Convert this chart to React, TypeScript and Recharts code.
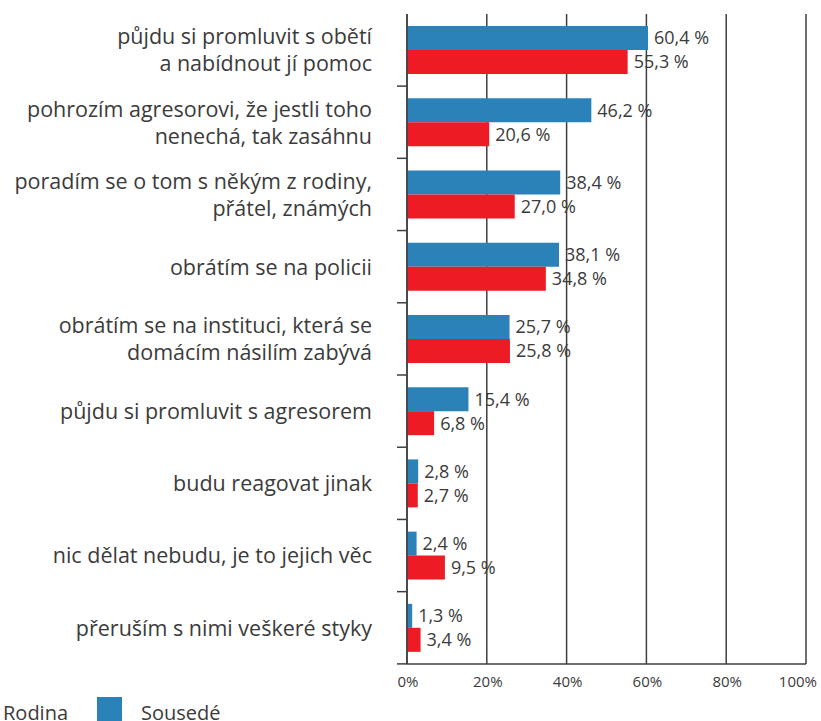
import { Bar, BarChart, CartesianGrid, LabelList, XAxis, YAxis } from "recharts";

const categories = [
  "půjdu si promluvit s obětí\na nabídnout jí pomoc",
  "pohrozím agresorovi, že jestli toho\nnenechá, tak zasáhnu",
  "poradím se o tom s někým z rodiny,\npřátel, známých",
  "obrátím se na policii",
  "obrátím se na instituci, která se\ndomácím násilím zabývá",
  "půjdu si promluvit s agresorem",
  "budu reagovat jinak",
  "nic dělat nebudu, je to jejich věc",
  "přeruším s nimi veškeré styky",
];
const sousede = [60.4, 46.2, 38.4, 38.1, 25.7, 15.4, 2.8, 2.4, 1.3];
const rodina = [55.3, 20.6, 27.0, 34.8, 25.8, 6.8, 2.7, 9.5, 3.4];
const xTicks = [0, 20, 40, 60, 80, 100];

const data = categories.map((name, i) => ({ name, sousede: sousede[i], rodina: rodina[i] }));

const FONT = "'Open Sans', 'Noto Sans', sans-serif";
const TEXT = "#3b3b3b";
const GRID = "#3f3f3f";
const BLUE = "#2a82b9";
const RED = "#ed1c24";

const fmt = (v: number) => v.toFixed(1).replace(".", ",") + " %";

function CategoryTick(props: any) {
  const { x, y, payload } = props;
  const lines = String(payload.value).split("\n");
  const lh = 27;
  const start = -((lines.length - 1) * lh) / 2;
  return (
    <g>
      <text textAnchor="end" fill={TEXT} fontSize={21.5} fontFamily={FONT}>
        {lines.map((l, i) => (
          <tspan key={i} x={x - 35} y={y + start + i * lh} dy="0.36em">
            {l}
          </tspan>
        ))}
      </text>
      <line x1={x - 10} x2={x} y1={y + 36} y2={y + 36} stroke={GRID} strokeWidth={1.5} />
    </g>
  );
}

function PercentTick(props: any) {
  const { x, y, payload } = props;
  const last = payload.value === 100;
  return (
    <text
      x={last ? x + 11 : x + 1}
      y={y}
      dy="0.71em"
      textAnchor={last ? "end" : "middle"}
      fill={TEXT}
      fontSize={15}
      fontFamily={FONT}
    >
      {payload.value + "%"}
    </text>
  );
}

export default function App() {
  return (
    <div style={{ position: "absolute", left: 0, top: 0, width: 821, height: 721, overflow: "hidden", background: "#fff" }}>
      <BarChart
        width={821}
        height={700}
        data={data}
        layout="vertical"
        margin={{ top: 14, right: 15, bottom: 0, left: 0 }}
        barCategoryGap="16.7%"
        barGap={0}
      >
        <CartesianGrid horizontal={false} stroke={GRID} strokeWidth={1.5} />
        <XAxis
          type="number"
          domain={[0, 100]}
          ticks={xTicks}
          height={36}
          tickLine={false}
          tickSize={0}
          tickMargin={12}
          axisLine={{ stroke: GRID, strokeWidth: 1.5 }}
          tick={<PercentTick />}
        />
        <YAxis
          type="category"
          dataKey="name"
          width={407}
          tickLine={false}
          tickSize={0}
          tickMargin={0}
          axisLine={{ stroke: GRID, strokeWidth: 1.5 }}
          tick={<CategoryTick />}
          interval={0}
        />
        <Bar dataKey="sousede" fill={BLUE} isAnimationActive={false}>
          <LabelList dataKey="sousede" position="right" offset={6} formatter={(v: any) => fmt(Number(v))} fill={TEXT} fontSize={18} fontFamily={FONT} />
        </Bar>
        <Bar dataKey="rodina" fill={RED} isAnimationActive={false}>
          <LabelList dataKey="rodina" position="right" offset={6} formatter={(v: any) => fmt(Number(v))} fill={TEXT} fontSize={18} fontFamily={FONT} />
        </Bar>
      </BarChart>
      <div style={{ position: "absolute", left: -57, top: 697, display: "flex", alignItems: "flex-start", fontFamily: FONT, fontSize: 20, lineHeight: "28px", color: TEXT }}>
        <div style={{ width: 25, height: 25, background: RED, marginRight: 35 }} />
        <span style={{ marginTop: 2, width: 94 }}>Rodina</span>
        <div style={{ width: 25, height: 25, background: BLUE, marginRight: 19 }} />
        <span style={{ marginTop: 2 }}>Sousedé</span>
      </div>
    </div>
  );
}
